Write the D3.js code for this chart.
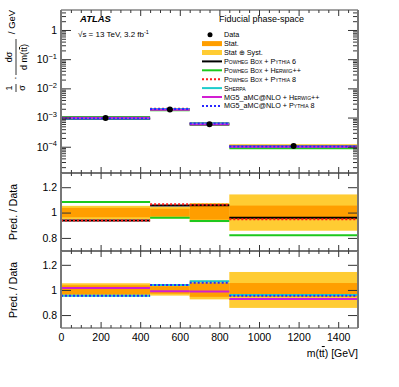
<!DOCTYPE html>
<html>
<head>
<meta charset="utf-8">
<script src="https://cdn.jsdelivr.net/npm/d3@7"></script>
<style>
  body { margin: 0; background: #fff; }
  svg { font-family: "Liberation Sans", Arial, sans-serif; }
  .sc { font-variant: small-caps; }
</style>
</head>
<body>
<div id="chart"></div>
<script>
// bins of m(tt) in GeV
var binEdges = [0, 450, 650, 850, 1500];
var binCenters = [225, 550, 750, 1175];
// normalised cross section 1/sigma dsigma/dm
var dataVals = [9.7e-4, 1.87e-3, 5.9e-4, 1.07e-4];
// relative uncertainties (half widths)
var statErr = [0.037, 0.03, 0.055, 0.055];
var totErr = [0.053, 0.045, 0.075, 0.143];

// prediction / data
var powPy6 = [0.937, 1.055, 1.058, 0.96];
var powHw = [1.084, 0.96, 0.934, 0.822];
var powPy8 = [0.937, 1.066, 1.062, 0.948];
var sherpa = [0.953, 1.04, 1.069, 0.96];
var mgHw = [1.016, 0.99, 0.987, 0.927];
var mgPy8 = [0.953, 1.04, 1.058, 0.953];

var xTicks = [0, 200, 400, 600, 800, 1000, 1200, 1400];
var ratioTicks = [0.8, 1, 1.2];
var ratioLabels = ["0.8", "1", "1.2"];
var logTicks = [1e-4, 1e-3, 1e-2, 1e-1, 1];
var logLabels = [["10", "\u22124"], ["10", "\u22123"], ["10", "\u22122"], ["10", "\u22121"], ["1", ""]];

// name parts: [plain, smallcaps]
var models = [
  {name: [["", "Powheg Box + Pythia 6"]], vals: powPy6, color: "#000", dash: null, panel: 1},
  {name: [["", "Powheg Box + Herwig++"]], vals: powHw, color: "#1ec81e", dash: null, panel: 1},
  {name: [["", "Powheg Box + Pythia 8"]], vals: powPy8, color: "#ff1a1a", dash: "2,2", panel: 1},
  {name: [["", "Sherpa"]], vals: sherpa, color: "#1ecccc", dash: null, panel: 2},
  {name: [["MG5_aMC@NLO + ", "Herwig++"]], vals: mgHw, color: "#d21ed2", dash: null, panel: 2},
  {name: [["MG5_aMC@NLO + ", "Pythia 8"]], vals: mgPy8, color: "#2828ff", dash: "2,2", panel: 2}
];

var svgWidth = 399, svgHeight = 387;
var left = 61, right = 358;
var mainTop = 10, mainBot = 173, r1Bot = 251, r2Bot = 328;

var svg = d3.select("#chart").append("svg")
  .attr("width", svgWidth)
  .attr("height", svgHeight);

var x = d3.scaleLinear().domain([0, 1500]).range([left, right]);
var yMain = d3.scaleLog().domain([1.26e-5, 4.84]).range([mainBot, mainTop]);
var yR1 = d3.scaleLinear().domain([0.697, 1.312]).range([r1Bot, mainBot]);
var yR2 = d3.scaleLinear().domain([0.697, 1.31]).range([r2Bot, r1Bot]);

var bins = dataVals.map(function(d, i) {
  return {i: i, x0: binEdges[i], x1: binEdges[i + 1], xc: binCenters[i], v: d};
});

// minor tick values
var xMinor = d3.range(0, 1501, 50).filter(function(v) { return v % 200 !== 0; });
var logMinor = [];
for (var e = -5; e <= 0; e++) {
  for (var m = 2; m <= 9; m++) {
    var v = m * Math.pow(10, e);
    if (v > 1.26e-5 && v < 4.84) logMinor.push(v);
  }
}

function styleAxis(g) {
  g.select(".domain").remove();
  g.selectAll(".tick line").attr("stroke", "#333").attr("stroke-width", 1);
  g.selectAll("text").attr("fill", "#000");
}

// draws the frame and ticks of one panel
function drawFrame(yScale, top, bot, yMajor, yMinorVals, showX, yFmt) {
  // x ticks bottom
  svg.append("g").attr("transform", "translate(0," + bot + ")")
    .call(d3.axisBottom(x).tickValues(xTicks).tickSizeInner(-6).tickSizeOuter(0)
      .tickPadding(5).tickFormat(showX ? d3.format("d") : ""))
    .call(styleAxis)
    .selectAll("text").attr("font-size", 10.5).attr("dy", "0.75em");
  svg.append("g").attr("transform", "translate(0," + bot + ")")
    .call(d3.axisBottom(x).tickValues(xMinor).tickSizeInner(-3).tickSizeOuter(0).tickFormat(""))
    .call(styleAxis);
  // x ticks top
  svg.append("g").attr("transform", "translate(0," + top + ")")
    .call(d3.axisTop(x).tickValues(xTicks).tickSizeInner(-6).tickSizeOuter(0).tickFormat(""))
    .call(styleAxis);
  svg.append("g").attr("transform", "translate(0," + top + ")")
    .call(d3.axisTop(x).tickValues(xMinor).tickSizeInner(-3).tickSizeOuter(0).tickFormat(""))
    .call(styleAxis);
  // y ticks left / right
  var la = svg.append("g").attr("transform", "translate(" + left + ",0)")
    .call(d3.axisLeft(yScale).tickValues(yMajor).tickSizeInner(-10).tickSizeOuter(0).tickPadding(4)
      .tickFormat(yFmt || null))
    .call(styleAxis);
  svg.append("g").attr("transform", "translate(" + right + ",0)")
    .call(d3.axisRight(yScale).tickValues(yMajor).tickSizeInner(-10).tickSizeOuter(0).tickFormat(""))
    .call(styleAxis);
  if (yMinorVals) {
    svg.append("g").attr("transform", "translate(" + left + ",0)")
      .call(d3.axisLeft(yScale).tickValues(yMinorVals).tickSizeInner(-5).tickSizeOuter(0).tickFormat(""))
      .call(styleAxis);
    svg.append("g").attr("transform", "translate(" + right + ",0)")
      .call(d3.axisRight(yScale).tickValues(yMinorVals).tickSizeInner(-5).tickSizeOuter(0).tickFormat(""))
      .call(styleAxis);
  }
  // frame
  svg.append("line").attr("x1", left).attr("x2", right).attr("y1", top).attr("y2", top)
    .attr("stroke", "#444").attr("stroke-width", 1);
  svg.append("line").attr("x1", left).attr("x2", right).attr("y1", bot).attr("y2", bot)
    .attr("stroke", "#444").attr("stroke-width", 1);
  svg.append("line").attr("x1", left).attr("x2", left).attr("y1", top).attr("y2", bot)
    .attr("stroke", "#777").attr("stroke-width", 2);
  svg.append("line").attr("x1", right).attr("x2", right).attr("y1", top).attr("y2", bot)
    .attr("stroke", "#777").attr("stroke-width", 2);
  return la;
}

// bands in a ratio panel
function drawBands(yScale) {
  var g = svg.append("g");
  g.selectAll(".syst").data(bins).enter().append("rect")
    .attr("x", function(d) { return x(d.x0); })
    .attr("width", function(d) { return x(d.x1) - x(d.x0); })
    .attr("y", function(d) { return yScale(1 + totErr[d.i]); })
    .attr("height", function(d) { return yScale(1 - totErr[d.i]) - yScale(1 + totErr[d.i]); })
    .attr("fill", "#ffcc33");
  g.selectAll(".stat").data(bins).enter().append("rect")
    .attr("x", function(d) { return x(d.x0); })
    .attr("width", function(d) { return x(d.x1) - x(d.x0); })
    .attr("y", function(d) { return yScale(1 + statErr[d.i]); })
    .attr("height", function(d) { return yScale(1 - statErr[d.i]) - yScale(1 + statErr[d.i]); })
    .attr("fill", "#ff9e00");
}

function drawHist(yScale, vals, model) {
  var g = svg.append("g");
  g.selectAll("line").data(bins).enter().append("line")
    .attr("x1", function(d) { return x(d.x0); })
    .attr("x2", function(d) { return x(d.x1); })
    .attr("y1", function(d) { return yScale(vals[d.i]); })
    .attr("y2", function(d) { return yScale(vals[d.i]); })
    .attr("stroke", model.color)
    .attr("stroke-width", 2)
    .attr("stroke-dasharray", model.dash);
}

// ---- main panel ----
var mainG = svg.append("g");
// data bands in main panel
mainG.selectAll(".msyst").data(bins).enter().append("rect")
  .attr("x", function(d) { return x(d.x0); })
  .attr("width", function(d) { return x(d.x1) - x(d.x0); })
  .attr("y", function(d) { return yMain(d.v * (1 + totErr[d.i])); })
  .attr("height", function(d) { return yMain(d.v * (1 - totErr[d.i])) - yMain(d.v * (1 + totErr[d.i])); })
  .attr("fill", "#ffcc33");
models.forEach(function(mo) {
  var absVals = mo.vals.map(function(r, i) { return r * dataVals[i]; });
  drawHist(yMain, absVals, mo);
});
mainG = svg.append("g");
mainG.selectAll("circle").data(bins).enter().append("circle")
  .attr("cx", function(d) { return x(d.xc); })
  .attr("cy", function(d) { return yMain(d.v); })
  .attr("r", 3)
  .attr("fill", "#000");

var mainAxis = drawFrame(yMain, mainTop, mainBot, logTicks, logMinor, false);
// superscript tick labels for the log axis
mainAxis.selectAll(".tick text").each(function(d, i) {
  var t = d3.select(this).text("").attr("font-size", 10.5);
  var lab = logLabels[logTicks.indexOf(d)];
  t.append("tspan").text(lab[0]);
  if (lab[1]) t.append("tspan").attr("dy", "-0.55em").attr("font-size", 7.5).text(lab[1]);
});

function ratioFmt(d) { return ratioLabels[ratioTicks.indexOf(d)]; }

// ---- ratio panel 1 ----
drawBands(yR1);
models.filter(function(m) { return m.panel === 1; }).forEach(function(mo) { drawHist(yR1, mo.vals, mo); });
drawFrame(yR1, mainBot, r1Bot, ratioTicks, null, false, ratioFmt)
  .selectAll("text").attr("font-size", 10.5);

// ---- ratio panel 2 ----
drawBands(yR2);
models.filter(function(m) { return m.panel === 2; }).forEach(function(mo) { drawHist(yR2, mo.vals, mo); });
drawFrame(yR2, r1Bot, r2Bot, ratioTicks, null, true, ratioFmt)
  .selectAll("text").attr("font-size", 10.5);

// ---- axis titles ----
svg.append("text")
  .attr("x", right).attr("y", 357)
  .attr("text-anchor", "end").attr("font-size", 10.5)
  .html("m(t<tspan text-decoration=\"overline\">t</tspan>) [GeV]");

[[yR1, 212], [yR2, 290]].forEach(function(p) {
  svg.append("text")
    .attr("transform", "translate(17," + p[1] + ") rotate(-90)")
    .attr("text-anchor", "middle").attr("font-size", 10.5)
    .text("Pred. / Data");
});

// main y title, built as fractions in a rotated group
var yt = svg.append("g").attr("transform", "translate(0,0) rotate(-90)");
// 1/sigma
yt.append("text").attr("x", -88).attr("y", 12).attr("text-anchor", "middle").attr("font-size", 9).text("1");
yt.append("line").attr("x1", -92).attr("x2", -84).attr("y1", 16).attr("y2", 16).attr("stroke", "#000").attr("stroke-width", 0.8);
yt.append("text").attr("x", -88).attr("y", 25).attr("text-anchor", "middle").attr("font-size", 9).text("\u03c3");
yt.append("text").attr("x", -78).attr("y", 19).attr("text-anchor", "middle").attr("font-size", 10).text("\u00b7");
// dsigma / d m(tt)
yt.append("text").attr("x", -57).attr("y", 12).attr("text-anchor", "middle").attr("font-size", 9).text("d\u03c3");
yt.append("line").attr("x1", -75).attr("x2", -39).attr("y1", 16).attr("y2", 16).attr("stroke", "#000").attr("stroke-width", 0.8);
yt.append("text").attr("x", -57).attr("y", 27).attr("text-anchor", "middle").attr("font-size", 9)
  .html("d m(t<tspan text-decoration=\"overline\">t</tspan>)");
yt.append("text").attr("x", -22).attr("y", 15).attr("text-anchor", "middle").attr("font-size", 9.5).text("/ GeV");

// ---- labels ----
svg.append("text").attr("x", 80).attr("y", 22)
  .attr("font-size", 9.5).attr("font-weight", "bold").attr("font-style", "italic").text("ATLAS");
svg.append("text").attr("x", 78).attr("y", 37).attr("font-size", 8)
  .html("\u221As = 13 TeV, 3.2 fb<tspan dy=\"-0.5em\" font-size=\"5.5\">-1</tspan>");

svg.append("text").attr("x", 219).attr("y", 22).attr("font-size", 9).text("Fiducial phase-space");

// ---- legend ----
var legX = 202, legW = 20, legY0 = 34.7, legDy = 8.9;
var leg = svg.append("g").attr("font-size", 7.2);
leg.append("circle").attr("cx", legX + 8).attr("cy", legY0).attr("r", 2.5).attr("fill", "#000");
leg.append("text").attr("x", legX + 22).attr("y", legY0 + 2.5).text("Data");
leg.append("rect").attr("x", legX).attr("y", legY0 + legDy - 2.5).attr("width", legW).attr("height", 5).attr("fill", "#ff9e00");
leg.append("text").attr("x", legX + 22).attr("y", legY0 + legDy + 2.5).text("Stat.");
leg.append("rect").attr("x", legX).attr("y", legY0 + 2 * legDy - 2.5).attr("width", legW).attr("height", 5).attr("fill", "#ffcc33");
leg.append("text").attr("x", legX + 22).attr("y", legY0 + 2 * legDy + 2.5).text("Stat \u2295 Syst.");
models.forEach(function(mo, i) {
  var yy = legY0 + (i + 3) * legDy;
  leg.append("line").attr("x1", legX).attr("x2", legX + legW).attr("y1", yy).attr("y2", yy)
    .attr("stroke", mo.color).attr("stroke-width", 2).attr("stroke-dasharray", mo.dash);
  var t = leg.append("text").attr("x", legX + 22).attr("y", yy + 2.5);
  mo.name.forEach(function(part) {
    if (part[0]) t.append("tspan").text(part[0]);
    t.append("tspan").attr("class", "sc").text(part[1]);
  });
});
</script>
</body>
</html>
